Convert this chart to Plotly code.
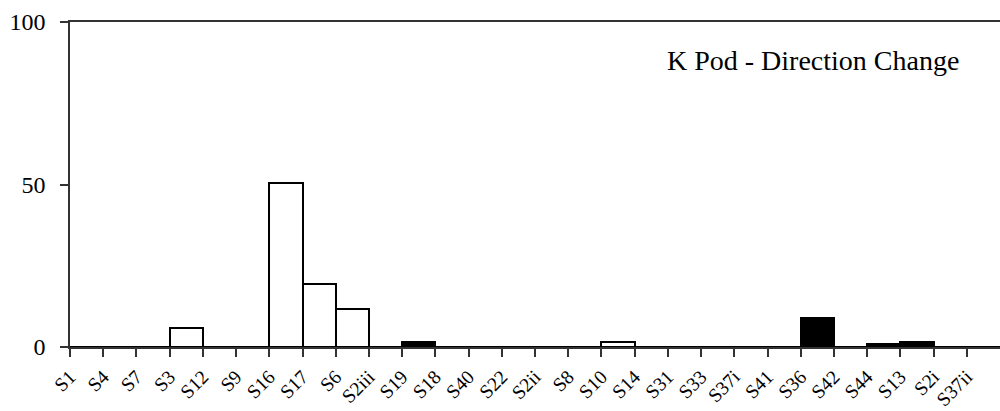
import plotly.graph_objects as go

categories = ["S1", "S4", "S7", "S3", "S12", "S9", "S16", "S17", "S6", "S2iii",
              "S19", "S18", "S40", "S22", "S2ii", "S8", "S10", "S14", "S31", "S33",
              "S37i", "S41", "S36", "S42", "S44", "S13", "S2i", "S37ii"]
values = [0, 0, 0, 6.0, 0, 0, 50.5, 19.3, 11.7, 0,
          1.4, 0, 0, 0, 0, 0, 1.4, 0, 0, 0,
          0, 0, 8.9, 0, 0.9, 1.4, 0, 0]
filled = ["S19", "S36", "S44", "S13"]
y_ticks = [0, 50, 100]
title_text = "K Pod - Direction Change"

FONT = "Liberation Serif, Times New Roman, serif"

xs = [i + 0.5 for i in range(len(categories))]
colors = ["black" if c in filled else "white" for c in categories]

fig = go.Figure()
fig.add_trace(go.Bar(
    x=xs, y=values, width=1,
    marker=dict(color=colors, line=dict(color="black", width=2)),
    hoverinfo="skip", showlegend=False,
))

fig.update_layout(
    width=1000, height=411,
    margin=dict(l=70, r=0, t=22, b=64, autoexpand=False),
    paper_bgcolor="white", plot_bgcolor="white",
    font=dict(family=FONT, color="black"),
    bargap=0,
    xaxis=dict(
        range=[0, len(categories)],
        tickmode="array",
        tickvals=list(range(len(categories))),
        ticktext=categories,
        tickangle=-45,
        ticks="outside", ticklen=8, tickcolor="#333", tickwidth=1.5,
        showline=True, linecolor="#333", linewidth=1.5,
        mirror=True,
        showgrid=False, zeroline=False,
        automargin=False,
        ticklabelstandoff=1,
        tickfont=dict(size=19.5, family=FONT, color="black"),
        fixedrange=True,
    ),
    yaxis=dict(
        range=[0, 100],
        tickmode="array", tickvals=y_ticks,
        ticks="outside", ticklen=8, tickcolor="#333", tickwidth=1.5,
        showline=True, linecolor="#333", linewidth=1.5,
        showgrid=False, zeroline=False,
        automargin=False,
        ticklabelstandoff=10,
        tickfont=dict(size=24, family=FONT, color="black"),
        fixedrange=True,
    ),
    annotations=[dict(
        text=title_text, xref="paper", yref="paper",
        x=0.958, y=0.883, xanchor="right", yanchor="middle",
        showarrow=False, font=dict(size=28, family=FONT, color="black"),
    )],
)

fig.write_html("out.html", config={"displayModeBar": False},
               post_script="document.body.style.margin='0';document.body.style.overflow='hidden';")
